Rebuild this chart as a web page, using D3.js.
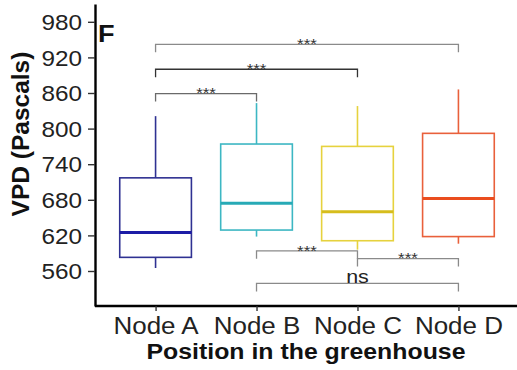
<!DOCTYPE html>
<html>
<head>
<meta charset="utf-8">
<script src="https://cdn.jsdelivr.net/npm/d3@7"></script>
<style>
  body { margin: 0; background: #fff; }
  svg { display: block; font-family: "Liberation Sans", Arial, sans-serif; }
</style>
</head>
<body>
<div id="chart"></div>
<script>
// categories and box stats
var nodes = ["Node A", "Node B", "Node C", "Node D"];
var whiskerLow  = [565, 618, 596, 606];
var q1          = [583, 629, 611, 618];
var medians     = [625, 674, 660, 682];
var q3          = [717, 774, 770, 792];
var whiskerHigh = [821, 843, 838, 866];
var boxColors    = ["#2f3192", "#3db7c3", "#e6d23e", "#e9603b"];
var medianColors = ["#1c1ca6", "#27aab6", "#d6bd1c", "#ea4d1e"];

// significance brackets
var pairsFrom  = ["Node A", "Node A", "Node A", "Node B", "Node C", "Node B"];
var pairsTo    = ["Node D", "Node C", "Node B", "Node C", "Node D", "Node D"];
var pairLevel  = [942, 900, 859, 594, 581, 539];
var pairLabels = ["***", "***", "***", "***", "***", "ns"];
var pairColors = ["#8a8a8a", "#333333", "#6a6a6a", "#8a8a8a", "#8a8a8a", "#8a8a8a"];

var yTicks = [560, 620, 680, 740, 800, 860, 920, 980];

var width = 517, height = 370;
var margin = {left: 95, bottom: 306, top: 4};
var stretch = 1.13;

var svg = d3.select("#chart").append("svg")
    .attr("width", width)
    .attr("height", height);

var x = d3.scalePoint().domain(nodes).range([margin.left, 519]).padding(0.6);
var y = d3.scaleLinear().domain([501, 1010]).range([margin.bottom, margin.top]);
var boxW = x.step() * 0.71;

// boxes
var boxes = svg.append("g").selectAll("g")
    .data(nodes)
    .enter().append("g");

boxes.append("line")
    .attr("x1", function(d) { return x(d); })
    .attr("x2", function(d) { return x(d); })
    .attr("y1", function(d, i) { return y(q3[i]); })
    .attr("y2", function(d, i) { return y(whiskerHigh[i]); })
    .attr("stroke", function(d, i) { return boxColors[i]; })
    .attr("stroke-width", 1.6);

boxes.append("line")
    .attr("x1", function(d) { return x(d); })
    .attr("x2", function(d) { return x(d); })
    .attr("y1", function(d, i) { return y(q1[i]); })
    .attr("y2", function(d, i) { return y(whiskerLow[i]); })
    .attr("stroke", function(d, i) { return boxColors[i]; })
    .attr("stroke-width", 1.6);

boxes.append("rect")
    .attr("x", function(d) { return x(d) - boxW / 2; })
    .attr("width", boxW)
    .attr("y", function(d, i) { return y(q3[i]); })
    .attr("height", function(d, i) { return y(q1[i]) - y(q3[i]); })
    .attr("fill", "#fff")
    .attr("stroke", function(d, i) { return boxColors[i]; })
    .attr("stroke-width", 1.6);

boxes.append("line")
    .attr("x1", function(d) { return x(d) - boxW / 2; })
    .attr("x2", function(d) { return x(d) + boxW / 2; })
    .attr("y1", function(d, i) { return y(medians[i]); })
    .attr("y2", function(d, i) { return y(medians[i]); })
    .attr("stroke", function(d, i) { return medianColors[i]; })
    .attr("stroke-width", 3);

// brackets
var tip = 8;
var br = svg.append("g").selectAll("g")
    .data(pairLevel)
    .enter().append("g");

br.append("path")
    .attr("d", function(d, i) {
        var x1 = x(pairsFrom[i]), x2 = x(pairsTo[i]), yy = y(d);
        return "M" + x1 + "," + (yy + tip) + "V" + yy + "H" + x2 + "V" + (yy + tip);
    })
    .attr("fill", "none")
    .attr("stroke", function(d, i) { return pairColors[i]; })
    .attr("stroke-width", 1.3);

br.append("text")
    .attr("transform", function(d, i) {
        var cx = (x(pairsFrom[i]) + x(pairsTo[i])) / 2;
        var off = pairLabels[i] == "ns" ? 3 : -0.5;
        return "translate(" + cx + "," + (y(d) + off) + ") scale(" + stretch + ",1)";
    })
    .attr("text-anchor", "middle")
    .attr("font-size", function(d, i) { return pairLabels[i] == "ns" ? 19 : 15; })
    .attr("fill", function(d, i) { return pairLabels[i] == "ns" ? "#222" : "#333"; })
    .text(function(d, i) { return pairLabels[i]; })
    .attr("dy", function(d, i) { return pairLabels[i] == "ns" ? "-0.2em" : "0.35em"; });

// Y axis
var yAxis = d3.axisLeft(y).tickValues(yTicks).tickSize(7).tickSizeOuter(0);
var gy = svg.append("g")
    .attr("transform", "translate(" + margin.left + ",0)")
    .call(yAxis);
gy.select(".domain").attr("stroke", "#000").attr("stroke-width", 2.4);
gy.selectAll(".tick line").attr("stroke", "#333").attr("stroke-width", 1.4);
gy.selectAll(".tick text")
    .attr("font-size", 21.5)
    .attr("fill", "#222")
    .attr("font-family", "Liberation Sans, Arial, sans-serif")
    .attr("x", -13 / stretch)
    .attr("dy", "0.36em")
    .attr("transform", "scale(" + stretch + ",1)");

// X axis
var xAxis = d3.axisBottom(x).tickSize(5).tickSizeOuter(0);
var gx = svg.append("g")
    .attr("transform", "translate(0," + margin.bottom + ")")
    .call(xAxis);
gx.select(".domain")
    .attr("d", "M" + margin.left + ",0H" + width)
    .attr("stroke", "#000").attr("stroke-width", 2.4);
gx.selectAll(".tick line").attr("stroke", "#333").attr("stroke-width", 1.4);
gx.selectAll(".tick text")
    .attr("font-size", 23)
    .attr("fill", "#222")
    .attr("font-family", "Liberation Sans, Arial, sans-serif")
    .attr("y", 28)
    .attr("dy", 0)
    .attr("transform", "scale(" + stretch + ",1)")
    .attr("x", 0);

// axis titles
svg.append("text")
    .attr("transform", "translate(" + ((margin.left + width) / 2) + ",359) scale(" + stretch + ",1)")
    .attr("text-anchor", "middle")
    .attr("font-size", 22)
    .attr("font-weight", "bold")
    .attr("fill", "#111")
    .text("Position in the greenhouse");

svg.append("text")
    .attr("transform", "translate(29,134) rotate(-90)")
    .attr("text-anchor", "middle")
    .attr("font-size", 24.5)
    .attr("font-weight", "bold")
    .attr("fill", "#111")
    .text("VPD (Pascals)");

// panel letter
svg.append("text")
    .attr("transform", "translate(98,42) scale(" + stretch + ",1)")
    .attr("font-size", 24)
    .attr("font-weight", "bold")
    .attr("fill", "#111")
    .text("F");
</script>
</body>
</html>
